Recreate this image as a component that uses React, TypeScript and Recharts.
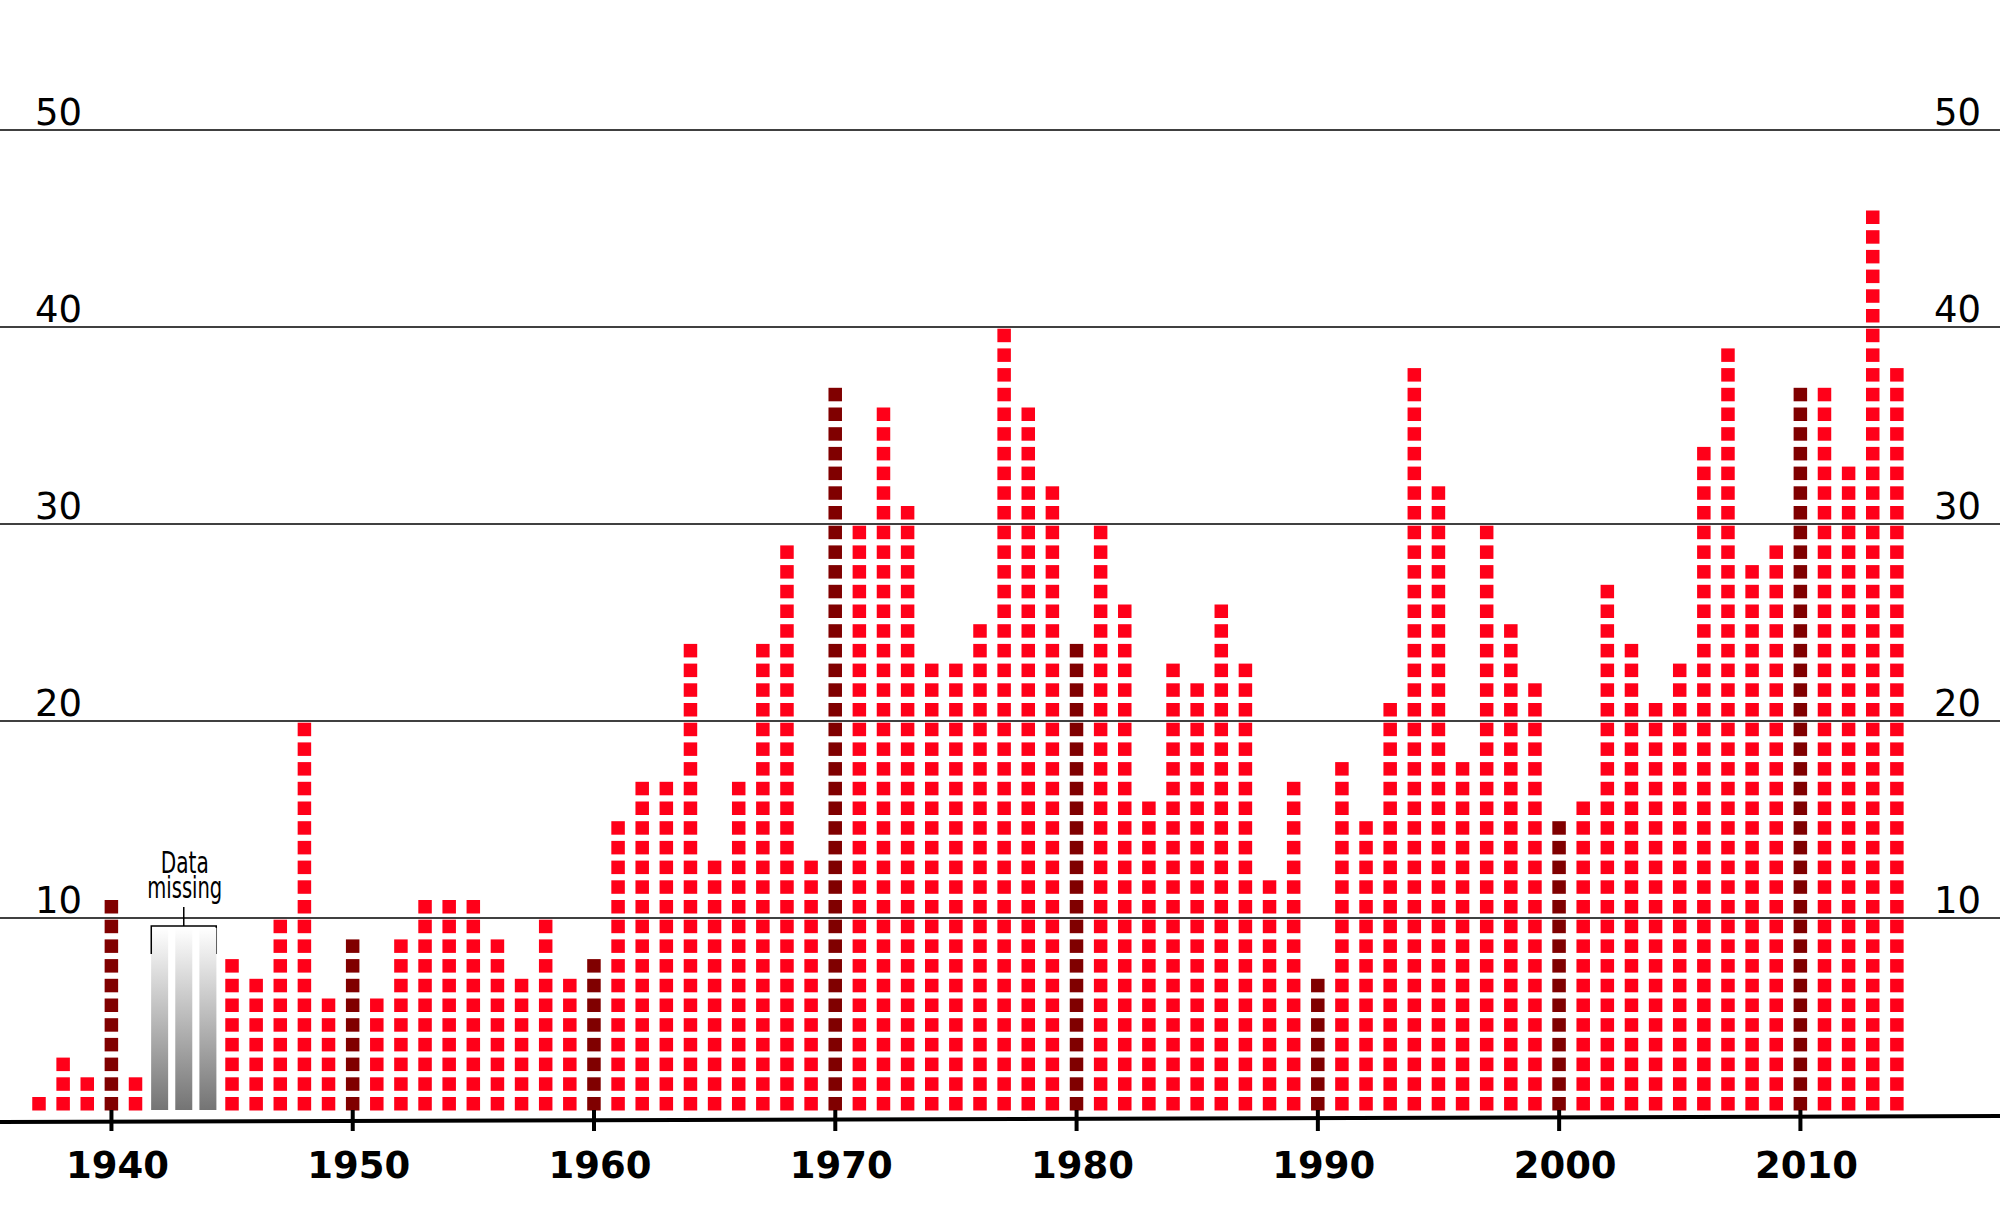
import React from 'react';
import { BarChart, Bar, XAxis, YAxis } from 'recharts';

// ---- data ----
const YEARS = [
  1937, 1938, 1939, 1940, 1941, 1942, 1943, 1944, 1945, 1946, 1947, 1948, 1949,
  1950, 1951, 1952, 1953, 1954, 1955, 1956, 1957, 1958, 1959,
  1960, 1961, 1962, 1963, 1964, 1965, 1966, 1967, 1968, 1969,
  1970, 1971, 1972, 1973, 1974, 1975, 1976, 1977, 1978, 1979,
  1980, 1981, 1982, 1983, 1984, 1985, 1986, 1987, 1988, 1989,
  1990, 1991, 1992, 1993, 1994, 1995, 1996, 1997, 1998, 1999,
  2000, 2001, 2002, 2003, 2004, 2005, 2006, 2007, 2008, 2009,
  2010, 2011, 2012, 2013, 2014,
];

// null = data missing
const COUNTS: (number | null)[] = [
  1, 3, 2, 11, 2, null, null, null, 8, 7, 10, 20, 6,
  9, 6, 9, 11, 11, 11, 9, 7, 10, 7,
  8, 15, 17, 17, 24, 13, 17, 24, 29, 13,
  37, 30, 36, 31, 23, 23, 25, 40, 36, 32,
  24, 30, 26, 16, 23, 22, 26, 23, 12, 17,
  7, 18, 15, 21, 38, 32, 18, 30, 25, 22,
  15, 16, 27, 24, 21, 23, 34, 39, 28, 29,
  37, 37, 33, 46, 38,
];

const MISSING_BAR_LEVEL = 9.6;
const Y_TICKS = [0, 10, 20, 30, 40, 50];
const X_TICK_YEARS = [1940, 1950, 1960, 1970, 1980, 1990, 2000, 2010];
const MISSING_LABEL = ['Data', 'missing'];

const RED = '#ff0019';
const DARK = '#800000';

const data = YEARS.map((year, i) => ({
  year,
  count: COUNTS[i],
  missing: COUNTS[i] === null,
  value: COUNTS[i] === null ? MISSING_BAR_LEVEL : COUNTS[i],
}));

const SQ = 13.5;

const ColumnShape = (props: any) => {
  const { x, y, width, height, payload } = props;
  if (!payload || height <= 0) return null;
  const cx = x + width / 2;
  const bottom = y + height;
  if (payload.missing) {
    const isMiddle = payload.year === 1943;
    return (
      <g>
        <defs>
          <linearGradient id={`miss${payload.year}`} x1="0" y1="0" x2="0" y2="1">
            <stop offset="0%" stopColor="#ffffff" />
            <stop offset="100%" stopColor="#747474" />
          </linearGradient>
        </defs>
        <rect x={cx - 8.5} y={y + 2} width={17} height={bottom - 5 - (y + 2)} fill={`url(#miss${payload.year})`} />
        {isMiddle && (
          <g>
            <path
              d={`M${cx} ${y - 19} L${cx} ${y} M${cx - width - 8.5} ${y + 28} L${cx - width - 8.5} ${y} L${cx + width + 8.5} ${y} L${cx + width + 8.5} ${y + 28}`}
              stroke="#000"
              strokeWidth={1.5}
              fill="none"
            />
            <text x={cx + 1} y={y - 53} textAnchor="middle" fontFamily="DejaVu Sans" fontSize={31} textLength={48} lengthAdjust="spacingAndGlyphs" fill="#000">
              {MISSING_LABEL[0]}
            </text>
            <text x={cx + 1} y={y - 28} textAnchor="middle" fontFamily="DejaVu Sans" fontSize={30} textLength={75} lengthAdjust="spacingAndGlyphs" fill="#000">
              {MISSING_LABEL[1]}
            </text>
          </g>
        )}
      </g>
    );
  }
  const n = payload.count as number;
  const unit = height / n;
  const color = payload.year % 10 === 0 ? DARK : RED;
  const rects = [];
  for (let i = 0; i < n; i++) {
    rects.push(
      <rect key={i} x={cx - SQ / 2} y={bottom - i * unit - 4.5 - SQ} width={SQ} height={SQ} fill={color} />
    );
  }
  return <g>{rects}</g>;
};

const GridTick = (props: any) => {
  const { y, payload } = props;
  const v = Number(payload.value);
  if (v === 0) {
    return <line x1={0} x2={2000} y1={y + 7} y2={y + 1} stroke="#000" strokeWidth={4} />;
  }
  return (
    <g>
      <line x1={0} x2={2000} y1={y} y2={y} stroke="#000" strokeWidth={1.5} />
      <text x={35} y={y - 5} fontFamily="DejaVu Sans" fontSize={37} fill="#000">{v}</text>
      <text x={1981} y={y - 5} textAnchor="end" fontFamily="DejaVu Sans" fontSize={37} fill="#000">{v}</text>
    </g>
  );
};

const YearTick = (props: any) => {
  const { x, y, payload } = props;
  const yr = Number(payload.value);
  if (!X_TICK_YEARS.includes(yr)) return null;
  return (
    <g>
      <line x1={x} x2={x} y1={y - 5} y2={y + 16} stroke="#000" strokeWidth={4} />
      <text x={x + 6} y={y + 63} textAnchor="middle" fontFamily="DejaVu Sans" fontWeight="bold" fontSize={37} fill="#000">
        {yr}
      </text>
    </g>
  );
};

export default function App() {
  return (
    <div style={{ position: 'absolute', left: 0, top: 0, width: 2000, height: 1232, background: '#fff' }}>
      <BarChart
        width={2000}
        height={1232}
        data={data}
        margin={{ top: 130, right: 91, bottom: 0, left: 26 }}
        barCategoryGap={0}
        barGap={0}
      >
        <XAxis
          dataKey="year"
          type="category"
          interval={0}
          height={117}
          axisLine={false}
          tickLine={false}
          tickSize={0}
          tickMargin={0}
          tick={<YearTick />}
        />
        <YAxis
          type="number"
          domain={[0, 50]}
          ticks={Y_TICKS}
          width={1}
          axisLine={false}
          tickLine={false}
          tick={GridTick}
          interval={0}
        />
        <Bar dataKey="value" shape={<ColumnShape />} isAnimationActive={false} />
      </BarChart>
    </div>
  );
}
